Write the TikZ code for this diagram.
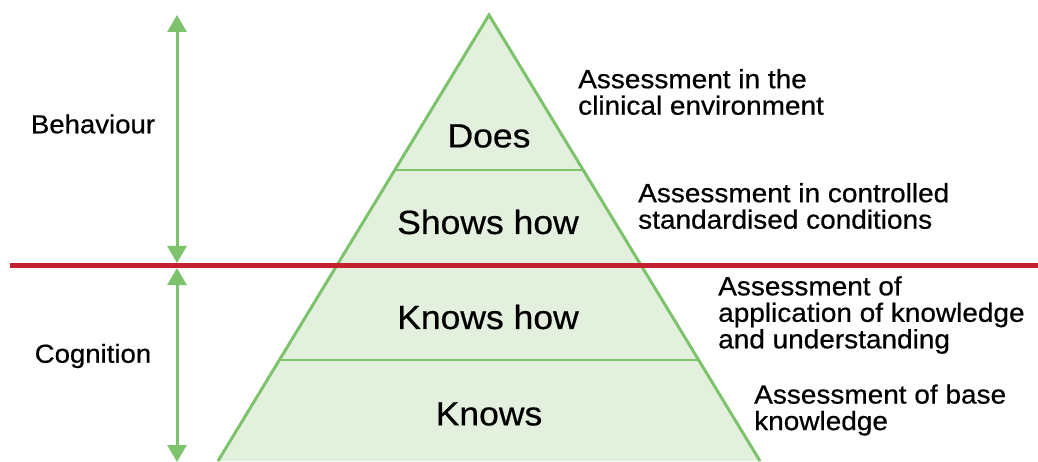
\documentclass[tikz,border=0pt]{standalone}
\usepackage{fontspec}
\setmainfont[FakeStretch=1.06, FakeBold=0.6]{Liberation Sans}
\usetikzlibrary{arrows.meta}

\definecolor{pyrline}{HTML}{7CC36B}
\definecolor{pyrfill}{HTML}{E4F0DE}
\definecolor{splitred}{HTML}{C4202F}

\tikzset{
  level/.style={font=\fontsize{33.5}{36}\selectfont},
  side/.style={font=\fontsize{26}{27}\selectfont, inner sep=0pt},
  note/.style={font=\fontsize{26.4}{26.5}\selectfont, inner sep=0pt, anchor=west, align=left},
  span/.style={pyrline, line width=3pt, {Triangle[width=19pt,length=17pt]}-{Triangle[width=19pt,length=17pt]}}
}

\begin{document}
\begin{tikzpicture}[x=1pt, y=-1pt]
  \useasboundingbox (0,0) rectangle (1038,462);

  % pyramid
  \coordinate (apex) at (489,15);
  \coordinate (baseL) at (218,461);
  \coordinate (baseR) at (760,461);
  \fill[pyrfill] (apex) -- (baseL) -- (baseR) -- cycle;
  \draw[pyrline, line width=2.5pt] (395,170) -- (583,170);
  \draw[pyrline, line width=2.5pt] (279,360) -- (699,360);
  \draw[pyrline, line width=3pt, line join=miter] (baseL) -- (apex) -- (baseR);

  % split between behaviour and cognition
  \coordinate (splitL) at (10,265.5);
  \coordinate (splitR) at (1038,265.5);
  \draw[splitred, line width=5pt] (splitL) -- (splitR);

  % ranges on the left
  \coordinate (behTop) at (177,15);
  \coordinate (behBot) at (177,263);
  \coordinate (cogTop) at (177,268);
  \coordinate (cogBot) at (177,462);
  \draw[span] (behTop) -- (behBot);
  \draw[span] (cogTop) -- (cogBot);
  \node[side] (behaviour) at (93,124) {Behaviour};
  \node[side] (cognition) at (93,356) {Cognition};

  % levels
  \node[level] (does) at (489,136) {Does};
  \node[level] (shows) at (488,222) {Shows how};
  \node[level] (knowshow) at (488,317) {Knows how};
  \node[level] (knows) at (489,414) {Knows};

  % assessment notes
  \node[note] (clinical) at (578,92) {Assessment in the\\clinical environment};
  \node[note] (controlled) at (638,206) {Assessment in controlled\\standardised conditions};
  \node[note] (applied) at (718,315) {Assessment of\\application of knowledge\\and understanding};
  \node[note] (base) at (754,410) {Assessment of base\\knowledge};
\end{tikzpicture}
\end{document}
